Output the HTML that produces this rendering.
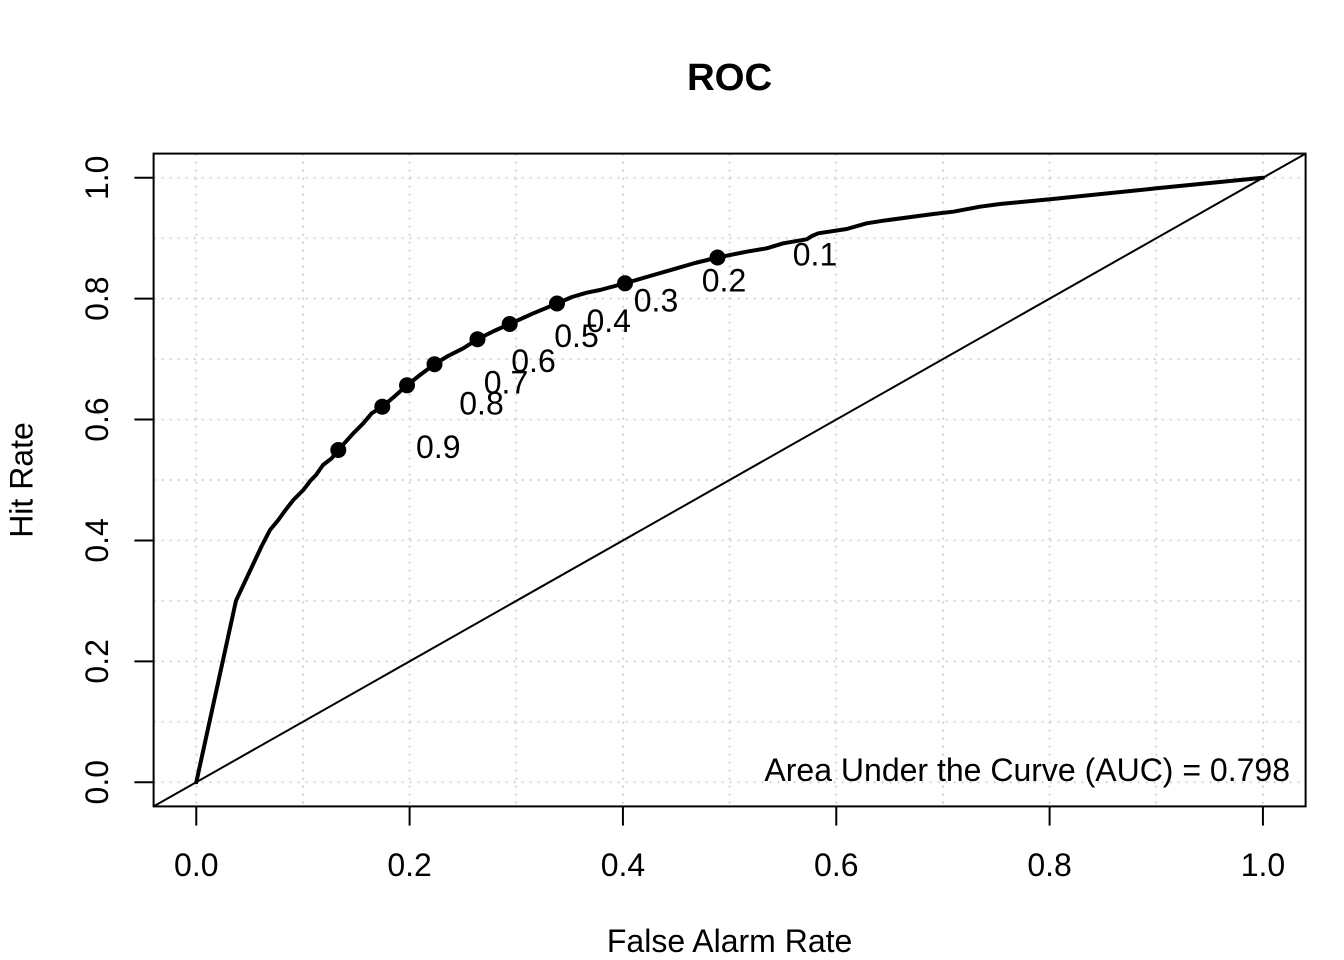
<!DOCTYPE html>
<html>
<head>
<meta charset="utf-8">
<style>
  html, body { margin: 0; padding: 0; background: #ffffff; }
  svg { display: block; }
  text { font-family: "Liberation Sans", Arial, Helvetica, sans-serif; fill: #000; }
</style>
</head>
<body>
<svg width="1344" height="960" viewBox="0 0 1344 960" xmlns="http://www.w3.org/2000/svg">
  <rect x="0" y="0" width="1344" height="960" fill="#ffffff"/>

  <!-- Grid (dotted lightgray) -->
  <g stroke="#d3d3d3" stroke-width="2" stroke-dasharray="2 6" fill="none">
    <line x1="196.27" y1="153.6" x2="196.27" y2="806.4"/>
    <line x1="302.93" y1="153.6" x2="302.93" y2="806.4"/>
    <line x1="409.6" y1="153.6" x2="409.6" y2="806.4"/>
    <line x1="516.27" y1="153.6" x2="516.27" y2="806.4"/>
    <line x1="622.93" y1="153.6" x2="622.93" y2="806.4"/>
    <line x1="729.6" y1="153.6" x2="729.6" y2="806.4"/>
    <line x1="836.27" y1="153.6" x2="836.27" y2="806.4"/>
    <line x1="942.93" y1="153.6" x2="942.93" y2="806.4"/>
    <line x1="1049.6" y1="153.6" x2="1049.6" y2="806.4"/>
    <line x1="1156.27" y1="153.6" x2="1156.27" y2="806.4"/>
    <line x1="1262.93" y1="153.6" x2="1262.93" y2="806.4"/>
    <line x1="153.6" y1="782.22" x2="1305.6" y2="782.22"/>
    <line x1="153.6" y1="721.78" x2="1305.6" y2="721.78"/>
    <line x1="153.6" y1="661.33" x2="1305.6" y2="661.33"/>
    <line x1="153.6" y1="600.89" x2="1305.6" y2="600.89"/>
    <line x1="153.6" y1="540.44" x2="1305.6" y2="540.44"/>
    <line x1="153.6" y1="480" x2="1305.6" y2="480"/>
    <line x1="153.6" y1="419.56" x2="1305.6" y2="419.56"/>
    <line x1="153.6" y1="359.11" x2="1305.6" y2="359.11"/>
    <line x1="153.6" y1="298.67" x2="1305.6" y2="298.67"/>
    <line x1="153.6" y1="238.22" x2="1305.6" y2="238.22"/>
    <line x1="153.6" y1="177.78" x2="1305.6" y2="177.78"/>
  </g>

  <!-- Diagonal reference line -->
  <line x1="153.6" y1="806.4" x2="1305.6" y2="153.6" stroke="#000" stroke-width="2"/>

  <!-- ROC curve -->
  <polyline fill="none" stroke="#000" stroke-width="4" stroke-linejoin="round" stroke-linecap="round"
    points="196.3,782.2 236,600.7 261.7,546 270,530 278.3,520 285,510.7 293.3,500 303.3,490 311,480 316,475 323,465 331.7,458.3 338.3,450 353.3,433.3 363.3,423.3 371.7,413.3 382.3,406.7 395,396 407,385.3 420,375 434.5,364.2 448,356 463.3,348.3 477.5,339.2 494,331 509.7,324 533.3,313.3 557,303.5 572,297 586.7,292.7 600,290 625,283.3 650,276 676.7,268.3 695,263 717.5,257.5 746.7,251.7 766.7,248.3 783.3,243.3 806.7,239.3 812,236 818.3,233.3 846.7,229 866.7,223.3 883.3,220.7 933.3,214 953.3,211.7 980,206.7 1000,204 1050,199.3 1156.7,188.3 1262.9,177.8"/>

  <!-- Threshold points -->
  <g fill="#000">
    <circle cx="338.3" cy="450" r="8"/>
    <circle cx="382.3" cy="406.7" r="8"/>
    <circle cx="407" cy="385.3" r="8"/>
    <circle cx="434.5" cy="364.2" r="8"/>
    <circle cx="477.5" cy="339.2" r="8"/>
    <circle cx="509.7" cy="324" r="8"/>
    <circle cx="557" cy="303.5" r="8"/>
    <circle cx="625" cy="283.3" r="8"/>
    <circle cx="717.5" cy="257.5" r="8"/>
  </g>

  <!-- Threshold labels -->
  <g font-size="32" text-anchor="middle">
    <text x="438.3" y="458">0.9</text>
    <text x="481.5" y="414.7">0.8</text>
    <text x="506" y="393.3">0.7</text>
    <text x="533.5" y="372.2">0.6</text>
    <text x="576.5" y="347.2">0.5</text>
    <text x="608.7" y="332">0.4</text>
    <text x="656" y="311.5">0.3</text>
    <text x="724" y="291.3">0.2</text>
    <text x="815" y="265.5">0.1</text>
  </g>

  <!-- AUC text -->
  <text x="1290" y="781" font-size="32" text-anchor="end">Area Under the Curve (AUC) = 0.798</text>

  <!-- Plot box -->
  <rect x="153.6" y="153.6" width="1152" height="652.8" fill="none" stroke="#000" stroke-width="2"/>

  <!-- X axis ticks -->
  <g stroke="#000" stroke-width="2">
    <line x1="196.27" y1="806.4" x2="196.27" y2="825.6"/>
    <line x1="409.6" y1="806.4" x2="409.6" y2="825.6"/>
    <line x1="622.93" y1="806.4" x2="622.93" y2="825.6"/>
    <line x1="836.27" y1="806.4" x2="836.27" y2="825.6"/>
    <line x1="1049.6" y1="806.4" x2="1049.6" y2="825.6"/>
    <line x1="1262.93" y1="806.4" x2="1262.93" y2="825.6"/>
  </g>
  <g font-size="32" text-anchor="middle">
    <text x="196.27" y="876">0.0</text>
    <text x="409.6" y="876">0.2</text>
    <text x="622.93" y="876">0.4</text>
    <text x="836.27" y="876">0.6</text>
    <text x="1049.6" y="876">0.8</text>
    <text x="1262.93" y="876">1.0</text>
  </g>

  <!-- Y axis ticks -->
  <g stroke="#000" stroke-width="2">
    <line x1="153.6" y1="782.22" x2="134.4" y2="782.22"/>
    <line x1="153.6" y1="661.33" x2="134.4" y2="661.33"/>
    <line x1="153.6" y1="540.44" x2="134.4" y2="540.44"/>
    <line x1="153.6" y1="419.56" x2="134.4" y2="419.56"/>
    <line x1="153.6" y1="298.67" x2="134.4" y2="298.67"/>
    <line x1="153.6" y1="177.78" x2="134.4" y2="177.78"/>
  </g>
  <g font-size="32" text-anchor="middle">
    <text transform="translate(108,782.22) rotate(-90)">0.0</text>
    <text transform="translate(108,661.33) rotate(-90)">0.2</text>
    <text transform="translate(108,540.44) rotate(-90)">0.4</text>
    <text transform="translate(108,419.56) rotate(-90)">0.6</text>
    <text transform="translate(108,298.67) rotate(-90)">0.8</text>
    <text transform="translate(108,177.78) rotate(-90)">1.0</text>
  </g>

  <!-- Titles -->
  <text x="729.6" y="90" font-size="38.4" font-weight="bold" text-anchor="middle">ROC</text>
  <text x="729.6" y="952" font-size="32" text-anchor="middle">False Alarm Rate</text>
  <text transform="translate(32.5,480) rotate(-90)" font-size="32" text-anchor="middle">Hit Rate</text>
</svg>
</body>
</html>
